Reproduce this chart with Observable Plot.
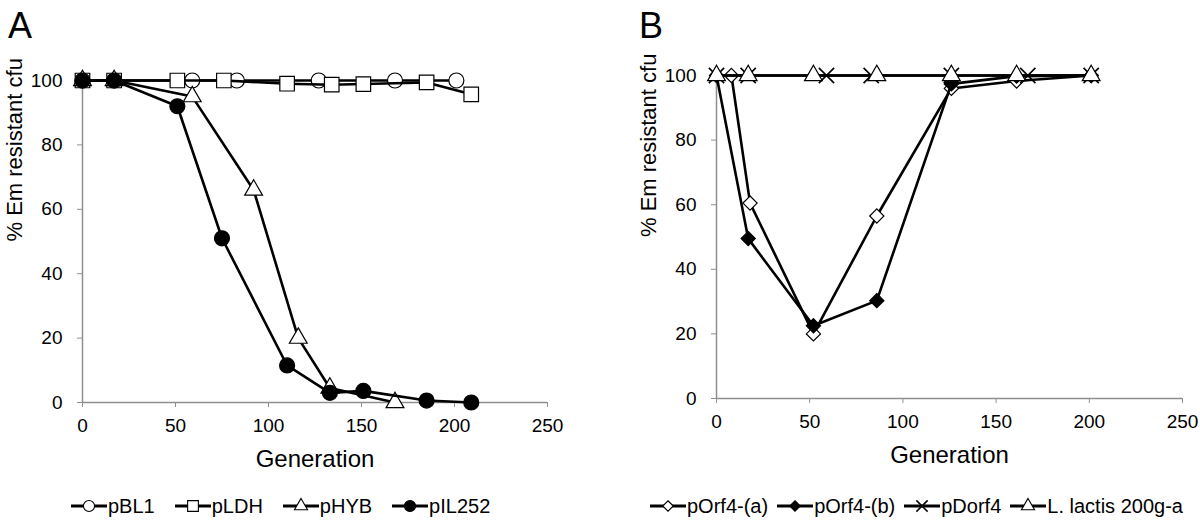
<!DOCTYPE html>
<html>
<head>
<meta charset="utf-8">
<script src="https://cdn.jsdelivr.net/npm/d3@7"></script>
<script src="https://cdn.jsdelivr.net/npm/@observablehq/plot@0.6"></script>
<style>
  html, body { margin: 0; padding: 0; background: #fff; }
  body { font-family: "Liberation Sans", Arial, Helvetica, sans-serif; color: #000; }
  #wrap { position: relative; width: 1200px; height: 520px; overflow: hidden; background: #fff; }
  .panel { position: absolute; top: 0; }
  .letter { position: absolute; top: 8px; font-size: 36px; line-height: 1; z-index: 5; }
  .legend { position: absolute; top: 494px; height: 24px; display: flex; align-items: center; font-size: 20px; line-height: 24px; white-space: nowrap; z-index: 5; }
  .legend .item { display: flex; align-items: center; }
  .legend svg { display: block; margin-right: 1px; }
  g[aria-label="x-axis tick"], g[aria-label="y-axis tick"] { color: #8f8f8f; }
  g[aria-label="x-axis tick label"], g[aria-label="y-axis tick label"] { color: #000; }
  g[aria-label="x-axis tick label"] text, g[aria-label="y-axis tick label"] text { font-size: 19px !important; }
</style>
</head>
<body>
<div id="wrap">
  <div id="panelA" class="panel" style="left:0px"></div>
  <div id="panelB" class="panel" style="left:600px"></div>
  <div class="letter" style="left:8px">A</div>
  <div class="letter" style="left:639px">B</div>
  <div id="legendA" class="legend" style="left:71px; gap:20px"></div>
  <div id="legendB" class="legend" style="left:650px; gap:9px"></div>
</div>
<script>
// ---------- axis ticks ----------
const xTicks = [0, 50, 100, 150, 200, 250];
const yTicks = [0, 20, 40, 60, 80, 100];
const xLabel = "Generation";
const yLabel = "% Em resistant cfu";

// ---------- Panel A ----------
const namesA = ["pBL1", "pLDH", "pHYB", "pIL252"];
const genBL1 = [0, 17, 59, 83, 127, 168, 201];
const valBL1 = [100, 100, 100, 100, 100, 100, 100];
const genLDH = [0, 17, 51, 76, 110, 134, 151, 185, 209];
const valLDH = [100, 100, 100, 100, 99, 98.7, 98.9, 99.4, 95.7];
const genHYB = [0, 17, 59, 92, 116, 133, 168];
const valHYB = [100, 100, 95, 66, 20, 4.5, 0];
const genIL252 = [0, 17, 51, 75, 110, 133, 151, 185, 209];
const valIL252 = [100, 100, 92, 51, 11.5, 3, 3.6, 0.6, 0];

// ---------- Panel B ----------
const namesB = ["pOrf4-(a)", "pOrf4-(b)", "pDorf4", "L. lactis 200g-a"];
const genOrf4a = [8, 18, 52, 86, 126, 161, 201];
const valOrf4a = [100, 60.5, 20, 56.5, 96, 98.3, 100];
const genOrf4b = [0, 17, 52, 86, 126, 161, 201];
const valOrf4b = [100, 49.5, 22.5, 30.3, 97.4, 99.8, 100];
const genDorf4 = [0, 17, 59, 83, 126, 167, 201];
const valDorf4 = [100, 100, 100, 100, 100, 100, 100];
const genLactis = [0, 17, 52, 86, 126, 161, 201];
const valLactis = [100, 100, 100, 100, 100, 100, 100];

// marker styles (appearance only)
const styleA = [
  {symbol: "circle", r: 7.5, fill: "white"},
  {symbol: "square", r: 8.2, fill: "white"},
  {symbol: "triangle", r: 6.6, fill: "white"},
  {symbol: "circle", r: 7.5, fill: "black"}
];
const styleB = [
  {symbol: "diamond2", r: 6.4, fill: "white"},
  {symbol: "diamond2", r: 6.4, fill: "black"},
  {symbol: "times", r: 7, fill: "none"},
  {symbol: "triangle", r: 6.6, fill: "white"}
];

function toRows(gen, val) { return gen.map((g, i) => ({gen: g, pct: val[i]})); }

const seriesA = [
  toRows(genBL1, valBL1), toRows(genLDH, valLDH), toRows(genHYB, valHYB), toRows(genIL252, valIL252)
];
const seriesB = [
  toRows(genOrf4a, valOrf4a), toRows(genOrf4b, valOrf4b), toRows(genDorf4, valDorf4), toRows(genLactis, valLactis)
];

const FONT = "Liberation Sans, Arial, Helvetica, sans-serif";

function makePanel(series, styles, m) {
  const marks = [
    Plot.axisX({ticks: xTicks, tickSize: 5, tickPadding: 11, fontSize: 19, label: null, tickFormat: d => String(d)}),
    Plot.axisY({ticks: yTicks, tickSize: 5, tickPadding: 15, fontSize: 19, label: null, tickFormat: d => String(d)}),
    Plot.ruleY([0], {stroke: "#8f8f8f", strokeWidth: 1.5}),
    Plot.ruleX([0], {stroke: "#8f8f8f", strokeWidth: 1.5})
  ];
  series.forEach((rows, i) => {
    const st = styles[i];
    marks.push(Plot.line(rows, {x: "gen", y: "pct", stroke: "black", strokeWidth: 2.6, strokeLinejoin: "round"}));
    marks.push(Plot.dot(rows, {
      x: "gen", y: "pct", symbol: st.symbol, r: st.r,
      fill: st.fill, stroke: "black", strokeWidth: st.symbol === "times" ? 1.6 : 1.2
    }));
  });
  marks.push(Plot.text([xLabel], {text: d => d, frameAnchor: "bottom", dy: 64, fontSize: 24, fill: "black"}));
  marks.push(Plot.text([yLabel], {text: d => d, frameAnchor: "left", rotate: -90, dx: -68, fontSize: 22, fill: "black"}));
  return Plot.plot({
    width: 600,
    height: 480,
    marginLeft: m.left,
    marginRight: m.right,
    marginTop: m.top,
    marginBottom: m.bottom,
    x: {domain: [0, 250]},
    y: {domain: [0, 100]},
    style: {fontFamily: FONT, fontSize: "19px", background: "transparent", color: "black", overflow: "visible"},
    marks
  });
}

document.getElementById("panelA").appendChild(
  makePanel(seriesA, styleA, {left: 82, right: 53, top: 80, bottom: 78})
);
document.getElementById("panelB").appendChild(
  makePanel(seriesB, styleB, {left: 116, right: 18, top: 75, bottom: 82})
);

// ---------- legends ----------
const symMap = {
  circle: d3.symbolCircle, square: d3.symbolSquare, triangle: d3.symbolTriangle,
  diamond2: d3.symbolDiamond2, times: d3.symbolTimes
};
function legend(id, names, styles) {
  const host = d3.select("#" + id);
  names.forEach((name, i) => {
    const st = styles[i];
    const item = host.append("div").attr("class", "item");
    const svg = item.append("svg").attr("width", 36).attr("height", 18);
    svg.append("line").attr("x1", 0).attr("x2", 36).attr("y1", 9).attr("y2", 9)
      .attr("stroke", "black").attr("stroke-width", 3.2);
    const scale = 0.74;
    const size = Math.PI * (st.r * scale) * (st.r * scale);
    svg.append("path").attr("transform", "translate(18,9)")
      .attr("d", d3.symbol(symMap[st.symbol], size)())
      .attr("fill", st.fill === "none" ? "none" : st.fill)
      .attr("stroke", "black").attr("stroke-width", st.symbol === "times" ? 1.5 : 1.1);
    item.append("span").text(name);
  });
}
legend("legendA", namesA, styleA);
legend("legendB", namesB, styleB);
</script>
</body>
</html>
